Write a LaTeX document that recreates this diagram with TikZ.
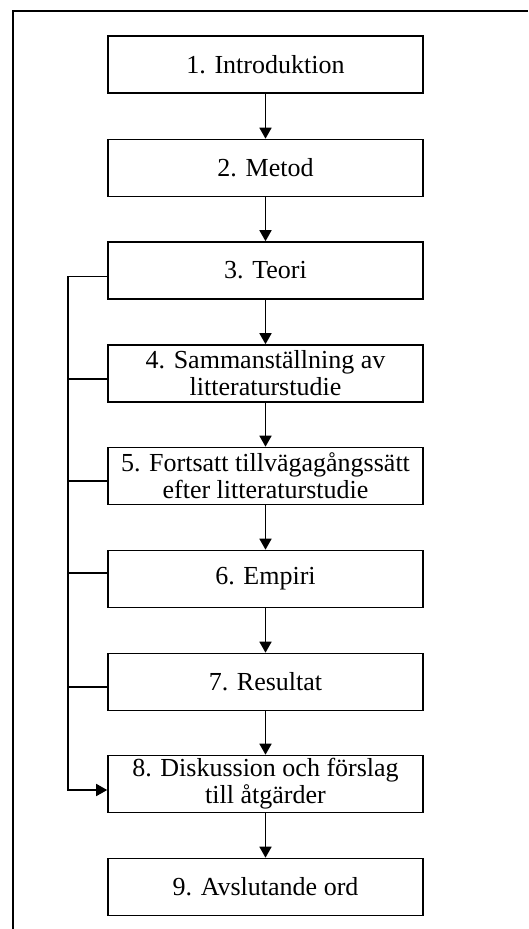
\documentclass[tikz,border=0pt]{standalone}
\usepackage{fontspec}
\setmainfont{Liberation Serif}
\usetikzlibrary{arrows.meta}
\begin{document}
\begin{tikzpicture}[x=1pt,y=-1pt,
  stepbox/.style={draw, line width=1.6pt, minimum width=315pt, minimum height=57pt,
    inner sep=0pt, align=center, font=\fontsize{26}{27}\selectfont},
  flow/.style={line width=1.6pt, -{Triangle[width=12pt,length=11pt]}},
  link/.style={line width=1.6pt}]
  \useasboundingbox (0,0) rectangle (528,929);
  % page frame
  \draw[line width=2pt] (13,929) -- (13,11) -- (528,11);
  % chapter boxes
  \node[stepbox] (b1) at (265.5,64.5)  {1. Introduktion};
  \node[stepbox] (b2) at (265.5,168)   {2. Metod};
  \node[stepbox] (b3) at (265.5,270.5) {3. Teori};
  \node[stepbox] (b4) at (265.5,373.5) {4. Sammanställning av\\litteraturstudie};
  \node[stepbox] (b5) at (265.5,476)   {5. Fortsatt tillvägagångssätt\\efter litteraturstudie};
  \node[stepbox] (b6) at (265.5,579)   {6. Empiri};
  \node[stepbox] (b7) at (265.5,682)   {7. Resultat};
  \node[stepbox] (b8) at (265.5,784)   {8. Diskussion och förslag\\till åtgärder};
  \node[stepbox] (b9) at (265.5,887)   {9. Avslutande ord};
  % main sequence
  \foreach \a/\b in {b1/b2,b2/b3,b3/b4,b4/b5,b5/b6,b6/b7,b7/b8,b8/b9}
    \draw[flow] (\a.south) -- (\b.north);
  % side bus feeding chapter 8
  \draw[flow] ([yshift=-6pt]b3.west) -- ++(-39,0) |- ([yshift=-6pt]b8.west);
  \draw[link] ([yshift=-5.5pt]b4.west) -- ++(-39,0);
  \draw[link] ([yshift=-5pt]b5.west) -- ++(-39,0);
  \draw[link] ([yshift=6pt]b6.west) -- ++(-39,0);
  \draw[link] ([yshift=-5pt]b7.west) -- ++(-39,0);
\end{tikzpicture}
\end{document}
